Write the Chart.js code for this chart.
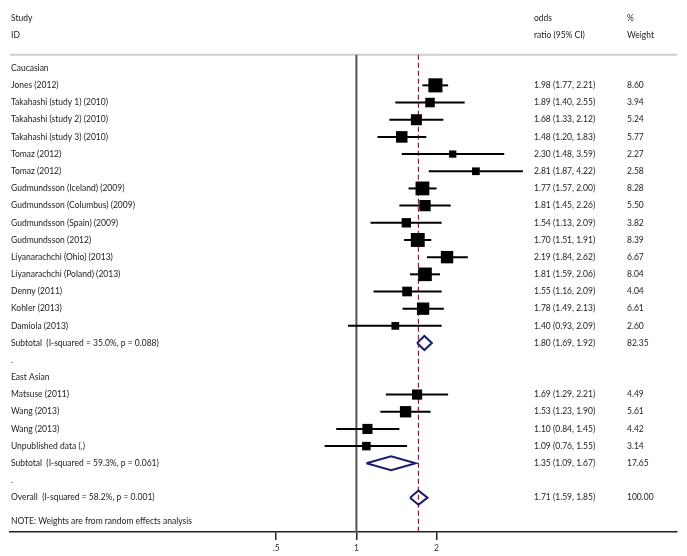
<!DOCTYPE html>
<html>
<head>
<meta charset="utf-8">
<script src="https://cdn.jsdelivr.net/npm/chart.js@4"></script>
<style>
  html, body { margin: 0; padding: 0; background: #fff; }
  #wrap { width: 687px; height: 556px; }
</style>
</head>
<body>
<div id="wrap"><canvas id="forest"></canvas></div>
<script>
// Caucasian studies
const cauStudies = ['Jones (2012)', 'Takahashi (study 1) (2010)', 'Takahashi (study 2) (2010)', 'Takahashi (study 3) (2010)',
  'Tomaz (2012)', 'Tomaz (2012)', 'Gudmundsson (Iceland) (2009)', 'Gudmundsson (Columbus) (2009)', 'Gudmundsson (Spain) (2009)',
  'Gudmundsson (2012)', 'Liyanarachchi (Ohio) (2013)', 'Liyanarachchi (Poland) (2013)', 'Denny (2011)', 'Kohler (2013)', 'Damiola (2013)'];
const cauOR = [1.98, 1.89, 1.68, 1.48, 2.30, 2.81, 1.77, 1.81, 1.54, 1.70, 2.19, 1.81, 1.55, 1.78, 1.40];
const cauLo = [1.77, 1.40, 1.33, 1.20, 1.48, 1.87, 1.57, 1.45, 1.13, 1.51, 1.84, 1.59, 1.16, 1.49, 0.93];
const cauHi = [2.21, 2.55, 2.12, 1.83, 3.59, 4.22, 2.00, 2.26, 2.09, 1.91, 2.62, 2.06, 2.09, 2.13, 2.09];
const cauW = [8.60, 3.94, 5.24, 5.77, 2.27, 2.58, 8.28, 5.50, 3.82, 8.39, 6.67, 8.04, 4.04, 6.61, 2.60];

// East Asian studies
const easStudies = ['Matsuse (2011)', 'Wang (2013)', 'Wang (2013)', 'Unpublished data (.)'];
const easOR = [1.69, 1.53, 1.10, 1.09];
const easLo = [1.29, 1.23, 0.84, 0.76];
const easHi = [2.21, 1.90, 1.45, 1.55];
const easW = [4.49, 5.61, 4.42, 3.14];

// pooled estimates: Caucasian subtotal, East Asian subtotal, overall
const poolLabels = ['Subtotal  (I-squared = 35.0%, p = 0.088)', 'Subtotal  (I-squared = 59.3%, p = 0.061)', 'Overall  (I-squared = 58.2%, p = 0.001)'];
const poolOR = [1.80, 1.35, 1.71];
const poolLo = [1.69, 1.09, 1.59];
const poolHi = [1.92, 1.67, 1.85];
const poolW = [82.35, 17.65, 100.00];

const xTicks = [0.5, 1, 2];

// row layout (row index on the y scale)
const rows = [];
rows.push({ k: 0, label: 'Caucasian' });
cauStudies.forEach((s, i) => rows.push({ k: 1 + i, label: s, or: cauOR[i], lo: cauLo[i], hi: cauHi[i], w: cauW[i], type: 'study' }));
rows.push({ k: 16, label: poolLabels[0], or: poolOR[0], lo: poolLo[0], hi: poolHi[0], w: poolW[0], type: 'pool' });
rows.push({ k: 17, label: '.' });
rows.push({ k: 18, label: 'East Asian' });
easStudies.forEach((s, i) => rows.push({ k: 19 + i, label: s, or: easOR[i], lo: easLo[i], hi: easHi[i], w: easW[i], type: 'study' }));
rows.push({ k: 23, label: poolLabels[1], or: poolOR[1], lo: poolLo[1], hi: poolHi[1], w: poolW[1], type: 'pool' });
rows.push({ k: 24, label: '.' });
rows.push({ k: 25, label: poolLabels[2], or: poolOR[2], lo: poolLo[2], hi: poolHi[2], w: poolW[2], type: 'pool' });

const TOP = -0.78, BOTTOM = 27.0;
const fmt = v => v.toFixed(2);

const datasets = [];
const studyRows = rows.filter(r => r.type === 'study');

// squares (area ~ weight)
datasets.push({
  type: 'scatter',
  data: studyRows.map(r => ({ x: r.or, y: r.k })),
  pointStyle: 'rect',
  pointRadius: studyRows.map(r => 4.8 * Math.sqrt(r.w) / 1.414),
  backgroundColor: '#000',
  borderWidth: 0,
  order: 1
});
// confidence intervals
studyRows.forEach(r => {
  datasets.push({
    type: 'line',
    data: [{ x: r.lo, y: r.k }, { x: r.hi, y: r.k }],
    borderColor: '#000',
    borderWidth: 2,
    pointRadius: 0,
    order: 2
  });
});
// diamonds
rows.filter(r => r.type === 'pool').forEach(r => {
  datasets.push({
    type: 'line',
    data: [{ x: r.lo, y: r.k }, { x: r.or, y: r.k - 0.41 }, { x: r.hi, y: r.k }, { x: r.or, y: r.k + 0.41 }, { x: r.lo, y: r.k }],
    borderColor: '#1c1c6e',
    borderWidth: 2,
    pointRadius: 0,
    fill: false,
    order: 2
  });
});
// overall effect (dashed) and no-effect line
datasets.push({
  type: 'line',
  data: [{ x: poolOR[2], y: TOP }, { x: poolOR[2], y: BOTTOM }],
  borderColor: '#8b2232',
  borderWidth: 1.2,
  borderDash: [5, 3],
  pointRadius: 0,
  order: 3
});
datasets.push({
  type: 'line',
  data: [{ x: 1, y: TOP }, { x: 1, y: BOTTOM }],
  borderColor: '#555',
  borderWidth: 2,
  pointRadius: 0,
  order: 4
});

// grey rule under the header, across the full plot width
const headerRule = {
  id: 'headerRule',
  beforeDatasetsDraw(chart) {
    const { ctx, chartArea } = chart;
    const y = chart.scales.y.getPixelForValue(TOP);
    ctx.save();
    ctx.strokeStyle = '#cfcfcf';
    ctx.lineWidth = 2;
    ctx.beginPath();
    ctx.moveTo(chartArea.left, y);
    ctx.lineTo(chartArea.right, y);
    ctx.stroke();
    ctx.restore();
  }
};

const textPlugin = {
  id: 'forestText',
  afterDraw(chart) {
    const ctx = chart.ctx;
    const ys = chart.scales.y;
    ctx.save();
    ctx.font = '8.5px Lato';
    ctx.fillStyle = '#222';
    ctx.textBaseline = 'middle';
    ctx.textAlign = 'left';
    const put = (t, x, k) => ctx.fillText(t, x, ys.getPixelForValue(k));
    put('Study', 11, -2.93);
    put('ID', 11, -1.9);
    put('odds', 534, -2.93);
    put('ratio (95% CI)', 534, -1.9);
    put('%', 627, -2.93);
    put('Weight', 627, -1.9);
    rows.forEach(r => {
      put(r.label, 11, r.k);
      if (r.or !== undefined) {
        put(fmt(r.or) + ' (' + fmt(r.lo) + ', ' + fmt(r.hi) + ')', 534, r.k);
        put(fmt(r.w), 627, r.k);
      }
    });
    put('NOTE: Weights are from random effects analysis', 11, 26.4);
    ctx.restore();
  }
};

new Chart(document.getElementById('forest'), {
  type: 'scatter',
  data: { datasets },
  options: {
    responsive: true,
    maintainAspectRatio: false,
    animation: false,
    layout: { padding: { left: 2, right: 3, top: 0, bottom: 0 } },
    plugins: { legend: { display: false }, tooltip: { enabled: false } },
    scales: {
      x: {
        type: 'logarithmic',
        min: 0.05,
        max: 16,
        afterBuildTicks: s => { s.ticks = xTicks.map(v => ({ value: v })); },
        afterFit: s => { s.height = 24; },
        ticks: {
          autoSkip: false,
          maxRotation: 0,
          padding: 3,
          color: '#333',
          font: { family: 'Lato', size: 8.5 },
          callback: v => (v === 0.5 ? '.5' : String(v))
        },
        grid: { drawOnChartArea: false, drawTicks: true, tickLength: 8, color: '#222', lineWidth: 1.5 },
        border: { display: true, color: '#222', width: 1.5 }
      },
      y: {
        type: 'linear',
        reverse: true,
        min: -3.39,
        max: BOTTOM,
        display: false
      }
    }
  },
  plugins: [headerRule, textPlugin]
});
</script>
</body>
</html>
